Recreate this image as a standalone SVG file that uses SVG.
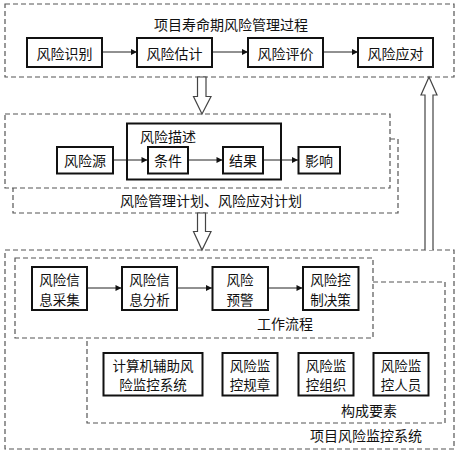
<svg xmlns="http://www.w3.org/2000/svg" width="461" height="454" viewBox="0 0 461 454">
<defs>
<style>
text{font-family:"Noto Sans CJK SC","Noto Sans",sans-serif;font-size:14px;fill:#111;text-anchor:middle;dominant-baseline:central}
text.m{font-size:13.5px}
.box{fill:#fff;stroke:#111;stroke-width:2}
.dash{fill:none;stroke:#555;stroke-width:1.2;stroke-dasharray:5,3}
.ln{stroke:#222;stroke-width:1;fill:none;marker-end:url(#ah)}
.hollow{fill:#fff;stroke:#444;stroke-width:1.2}
</style>
<marker id="ah" viewBox="0 0 10 10" refX="10" refY="5" markerWidth="8" markerHeight="6" markerUnits="userSpaceOnUse" orient="auto">
<path d="M0,0 L10,5 L0,10 z" fill="#111"/>
</marker>
</defs>
<rect width="461" height="454" fill="#fff"/>

<g id="frames">
<rect class="dash" x="5" y="4" width="449" height="73"/>
<text x="231" y="24">项目寿命期风险管理过程</text>
<path class="dash" d="M390,139 H398 V213 H13 V188"/>
<rect class="dash" x="5" y="114" width="385" height="74"/>
<text x="211" y="200">风险管理计划、风险应对计划</text>
<rect class="dash" x="5" y="250" width="449" height="199"/>
<text x="366" y="435">项目风险监控系统</text>
<rect class="dash" x="15" y="258" width="358" height="80"/>
<text x="285" y="323">工作流程</text>
<path class="dash" d="M373,282 H445 V423 H87 V338"/>
<text x="369" y="410">构成要素</text>
</g>

<g id="connectors">
<line class="ln" x1="102" y1="52" x2="137" y2="52"/>
<line class="ln" x1="212" y1="52" x2="248" y2="52"/>
<line class="ln" x1="323" y1="52" x2="358" y2="52"/>
<line class="ln" x1="113" y1="160" x2="147.5" y2="160"/>
<line class="ln" x1="188" y1="160" x2="222.5" y2="160"/>
<line class="ln" x1="263" y1="160" x2="298" y2="160"/>
<line class="ln" x1="87" y1="288" x2="121.5" y2="288"/>
<line class="ln" x1="177" y1="288" x2="212" y2="288"/>
<line class="ln" x1="268" y1="288" x2="302.5" y2="288"/>
<path class="hollow" d="M197.5,77 H206 V96.5 H211 L202,114 L193.5,96.5 H197.5 Z"/>
<path class="hollow" d="M197.5,213 H205.5 V231.5 H211 L202,250 L193.5,231.5 H197.5 Z"/>
<path class="hollow" d="M425,250 V95 H421 L429,77 L437,95 H433 V250"/>
</g>

<g id="n1"><rect class="box" x="27" y="38" width="75" height="29"/><text x="64.5" y="52.5">风险识别</text></g>
<g id="n2"><rect class="box" x="137" y="38" width="75" height="29"/><text x="174.5" y="52.5">风险估计</text></g>
<g id="n3"><rect class="box" x="248" y="38" width="75" height="29"/><text x="285.5" y="52.5">风险评价</text></g>
<g id="n4"><rect class="box" x="358" y="38" width="75" height="29"/><text x="395.5" y="52.5">风险应对</text></g>

<g id="desc"><rect class="box" x="127" y="123.5" width="154" height="56" style="fill:none"/><text x="168" y="136">风险描述</text></g>
<g id="src"><rect class="box" x="57" y="147" width="56" height="26.5"/><text x="85" y="160">风险源</text></g>
<g id="cond"><rect class="box" x="148" y="147" width="40" height="26.5"/><text x="168" y="160">条件</text></g>
<g id="res"><rect class="box" x="223" y="147" width="40" height="26.5"/><text x="243" y="160">结果</text></g>
<g id="imp"><rect class="box" x="298.5" y="147" width="41.5" height="26.5"/><text x="319" y="160">影响</text></g>

<g id="w1"><rect class="box" x="32" y="267" width="55" height="43"/><text class="m" x="59.5" y="279">风险信</text><text class="m" x="59.5" y="298.5">息采集</text></g>
<g id="w2"><rect class="box" x="122" y="267" width="55" height="43"/><text class="m" x="149.5" y="279">风险信</text><text class="m" x="149.5" y="298.5">息分析</text></g>
<g id="w3"><rect class="box" x="212.5" y="267" width="55.5" height="43"/><text class="m" x="240" y="279">风险</text><text class="m" x="240" y="298.5">预警</text></g>
<g id="w4"><rect class="box" x="303" y="267" width="55.5" height="43"/><text class="m" x="330.5" y="279">风险控</text><text class="m" x="330.5" y="298.5">制决策</text></g>

<g id="c1"><rect class="box" x="103.5" y="353" width="99" height="42.5"/><text class="m" x="153" y="364.5">计算机辅助风</text><text class="m" x="153" y="384">险监控系统</text></g>
<g id="c2"><rect class="box" x="222.5" y="353" width="55" height="42.5"/><text class="m" x="250" y="364.5">风险监</text><text class="m" x="250" y="384">控规章</text></g>
<g id="c3"><rect class="box" x="298.5" y="353" width="55" height="42.5"/><text class="m" x="326" y="364.5">风险监</text><text class="m" x="326" y="384">控组织</text></g>
<g id="c4"><rect class="box" x="373.5" y="353" width="55" height="42.5"/><text class="m" x="401" y="364.5">风险监</text><text class="m" x="401" y="384">控人员</text></g>
</svg>
